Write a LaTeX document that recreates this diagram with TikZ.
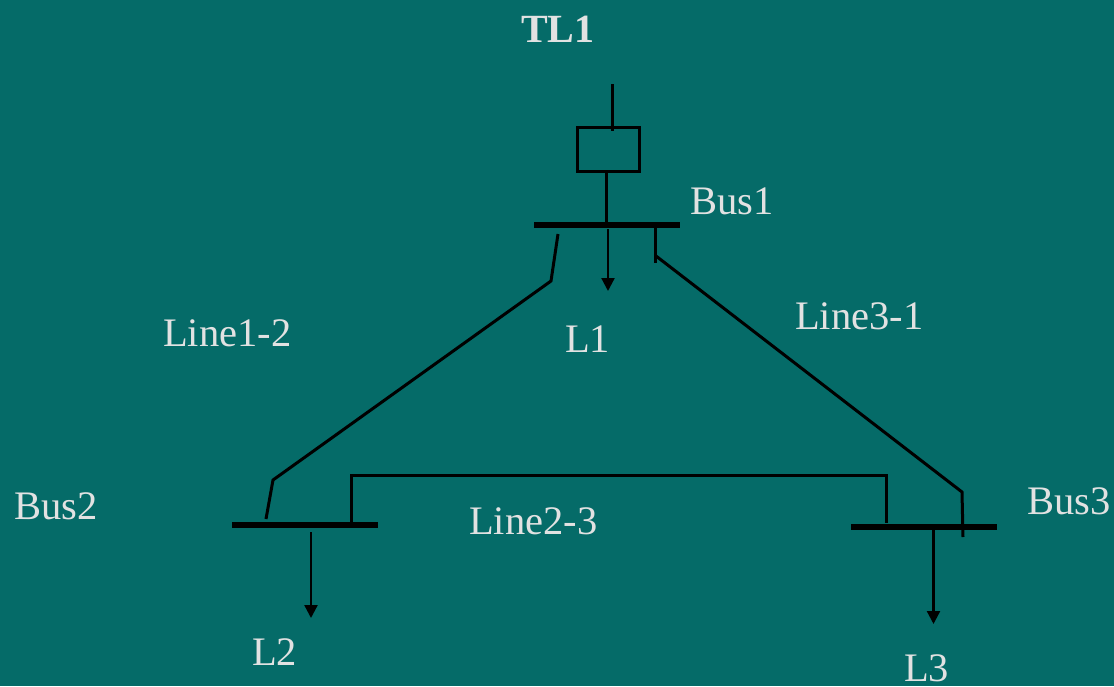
\documentclass[tikz,border=0pt]{standalone}
\usepackage{fontspec}
\setmainfont{Liberation Serif}
\usetikzlibrary{arrows.meta}
\definecolor{bgteal}{HTML}{056B68}
\definecolor{labelgrey}{HTML}{E2E2E2}
\tikzset{
  x=1pt,y=-1pt,
  lbl/.style={anchor=base west,inner sep=0pt,text=labelgrey,font=\fontsize{40.5}{45}\selectfont},
  busbar/.style={fill=black,draw=none,inner sep=0pt,minimum width=146pt,minimum height=6.5pt},
  wire/.style={draw=black,line width=3pt,line join=miter},
  feed/.style={draw=black,line width=2.3pt,-{Triangle[length=13pt,width=13pt]}},
  breaker/.style={draw=black,line width=3pt,inner sep=0pt,minimum width=62pt,minimum height=44pt}
}
\begin{document}
\begin{tikzpicture}
\fill[bgteal] (0,0) rectangle (1114,686);
\useasboundingbox (0,0) rectangle (1114,686);
% labels
\node[lbl,font=\fontsize{40}{44}\selectfont\bfseries] (tl) at (521,42.5) {TL1};
\node[lbl] (b1l) at (690,214) {Bus1};
\node[lbl] (l12) at (163,346) {Line1-2};
\node[lbl] (l1l) at (565,352) {L1};
\node[lbl] (l31) at (795,329) {Line3-1};
\node[lbl] (b2l) at (14,519) {Bus2};
\node[lbl] (l23) at (469,534) {Line2-3};
\node[lbl] (b3l) at (1027,514) {Bus3};
\node[lbl] (l2l) at (252,665) {L2};
\node[lbl] (l3l) at (904,681) {L3};
% equipment
\node[breaker] (brk) at (608,149) {};
\node[busbar] (bus1) at (606.5,225) {};
\node[busbar] (bus2) at (304.5,525) {};
\node[busbar] (bus3) at (923.5,527) {};
% free ends
\coordinate (top) at (612.5,84);
\coordinate (topin) at (612.5,131);
\coordinate (brkb) at (606.5,171);
\coordinate (a1s) at (608,229);
\coordinate (a1e) at (608,291);
\coordinate (a2s) at (311,532);
\coordinate (a2e) at (311,618);
\coordinate (a3s) at (933.5,530);
\coordinate (a3e) at (933.5,624);
\coordinate (p1) at (558,234);
\coordinate (p2) at (551,281);
\coordinate (p3) at (273,480);
\coordinate (p4) at (266,519);
\coordinate (q1) at (655,228);
\coordinate (q2) at (655,263);
\coordinate (q3) at (656,256);
\coordinate (q4) at (962,492);
\coordinate (q5) at (963,537);
\coordinate (r1) at (351,523);
\coordinate (r2) at (351,475.5);
\coordinate (r3) at (886,475.5);
\coordinate (r4) at (886,523);
% connectors
\draw[wire] (top) -- (topin);
\draw[wire] (brkb) -- (606.5,225);
\draw[feed] (a1s) -- (a1e);
\draw[feed] (a2s) -- (a2e);
\draw[feed] (a3s) -- (a3e);
\draw[wire] (p1) -- (p2) -- (p3) -- (p4);
\draw[wire] (q1) -- (q2);
\draw[wire] (q3) -- (q4) -- (q5);
\draw[wire] (r1) -- (r2) -- (r3) -- (r4);
\end{tikzpicture}
\end{document}
